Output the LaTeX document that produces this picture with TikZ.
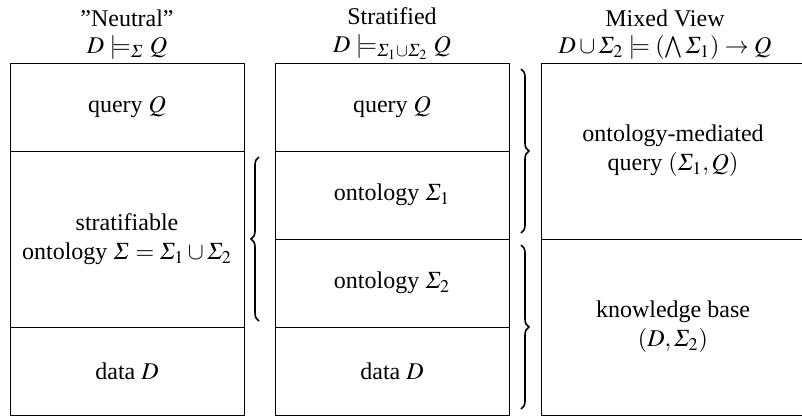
\documentclass[tikz,border=0pt]{standalone}
\usepackage{amsmath}
\usepackage{mathptmx}
\usepackage[no-math]{fontspec}
\setmainfont{Liberation Serif}
\usetikzlibrary{positioning,decorations.pathreplacing}

\begin{document}
\begin{tikzpicture}[
	x=0.5pt, y=-0.5pt,
	cell/.style={rectangle, draw=black, line width=0.5pt, outer sep=0pt, inner sep=0pt, minimum width=117pt, minimum height=44pt, align=center, font=\fontsize{12}{14.4}\selectfont},
	head/.style={align=center, inner sep=1pt, font=\fontsize{12}{13.8}\selectfont},
	curly/.style={decorate, decoration={brace, amplitude=4pt}, line width=0.8pt},
	node distance=0pt
	]
	\useasboundingbox (0,0) rectangle (802,418);
	%Neutral column
	\node[cell] (q1) at (127,107) {query $Q$};
	\node[cell, minimum height=88pt, below=of q1] (s1) {stratifiable\\ontology $\varSigma=\varSigma_1\cup\varSigma_2$};
	\node[cell, below=of s1] (d1) {data $D$};
	%Stratified column
	\node[cell] (q2) at (392,107) {query $Q$};
	\node[cell, below=of q2] (o1) {ontology $\varSigma_1$};
	\node[cell, below=of o1] (o2) {ontology $\varSigma_2$};
	\node[cell, below=of o2] (d2) {data $D$};
	%Mixed column
	\node[cell, minimum width=132pt, minimum height=88pt] (omq) at (673,151) {ontology-mediated\\query $(\varSigma_1,Q)$};
	\node[cell, minimum width=132pt, minimum height=88pt, below=of omq] (kb) {knowledge base\\$(D,\varSigma_2)$};
	%Headers
	\node[head, above=0.5pt of q1] (h1) {''Neutral''\\$D\models_{\varSigma} Q$};
	\node[head, above=0.5pt of q2] (h2) {Stratified\\$D\models_{\varSigma_1\cup\varSigma_2} Q$};
	\node[head, above=0.5pt of omq, xshift=-4pt] (h3) {Mixed View\\$D\cup\varSigma_2\models(\bigwedge\varSigma_1)\to Q$};
	%Braces
	\draw[curly] ([xshift=-8pt,yshift=3pt]o2.south west) -- ([xshift=-8pt,yshift=-3pt]o1.north west);
	\draw[curly] ([xshift=6pt,yshift=-3pt]q2.north east) -- ([xshift=6pt,yshift=3pt]o1.south east);
	\draw[curly] ([xshift=6pt,yshift=-3pt]o2.north east) -- ([xshift=6pt,yshift=3pt]d2.south east);
\end{tikzpicture}
\end{document}
